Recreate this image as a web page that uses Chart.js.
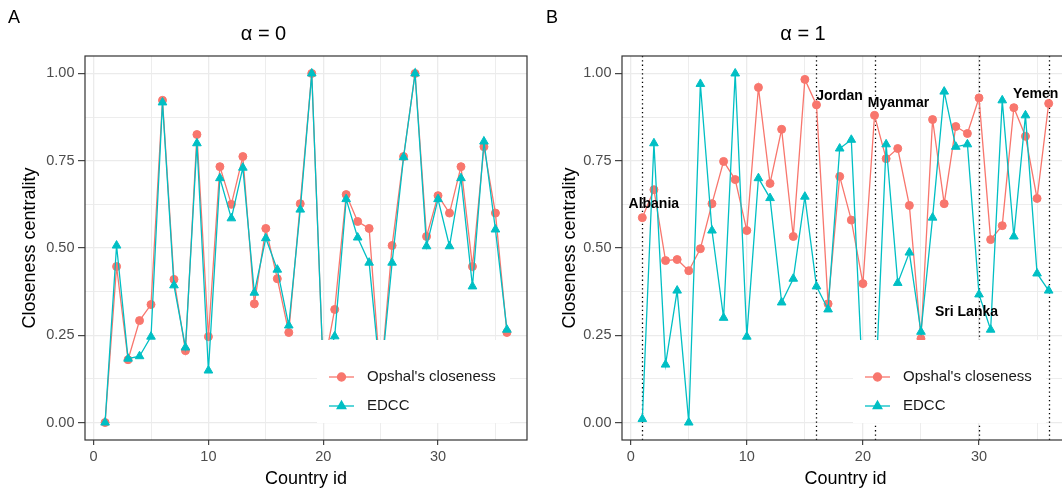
<!DOCTYPE html>
<html>
<head>
<meta charset="utf-8">
<script src="https://cdn.jsdelivr.net/npm/chart.js@4.4.0/dist/chart.umd.min.js"></script>
<style>
  html, body { margin: 0; padding: 0; background: #fff; overflow: hidden; }
  #wrap { position: relative; width: 1062px; height: 494px; overflow: hidden; }
  .panel { position: absolute; top: 0; height: 494px; }
  .tag { position: absolute; top: 7px; font: 18px "Liberation Sans", Arial, sans-serif; color: #000; }
</style>
</head>
<body>
<div id="wrap">
  <div class="panel" style="left:0;width:538px"><canvas id="chartA" width="538" height="494"></canvas></div>
  <div class="panel" style="left:537px;width:545px"><canvas id="chartB" width="545" height="494"></canvas></div>
  <div class="tag" style="left:8px">A</div>
  <div class="tag" style="left:546px">B</div>
</div>
<script>
const FONT = '"Liberation Sans", Arial, sans-serif';

const countryIds = [1, 2, 3, 4, 5, 6, 7, 8, 9, 10, 11, 12, 13, 14, 15, 16, 17, 18,
  19, 20, 21, 22, 23, 24, 25, 26, 27, 28, 29, 30, 31, 32, 33, 34, 35, 36];

// alpha = 0
const opshalA = [0.00, 0.447, 0.18, 0.292, 0.338, 0.923, 0.41, 0.206, 0.825, 0.246, 0.733, 0.625,
  0.762, 0.34, 0.556, 0.412, 0.258, 0.627, 1.00, 0.15, 0.324, 0.653, 0.576, 0.556,
  0.12, 0.507, 0.762, 1.00, 0.533, 0.65, 0.60, 0.733, 0.447, 0.79, 0.60, 0.258];
const edccA = [0.00, 0.507, 0.183, 0.19, 0.246, 0.917, 0.393, 0.215, 0.80, 0.149, 0.70, 0.585,
  0.73, 0.372, 0.528, 0.438, 0.278, 0.61, 1.00, 0.15, 0.247, 0.64, 0.53, 0.458,
  0.12, 0.458, 0.76, 1.00, 0.505, 0.64, 0.505, 0.70, 0.39, 0.805, 0.553, 0.266];

// alpha = 1
const opshalB = [0.587, 0.667, 0.464, 0.467, 0.435, 0.498, 0.627, 0.748, 0.696, 0.55, 0.96, 0.685,
  0.84, 0.533, 0.983, 0.91, 0.34, 0.705, 0.58, 0.398, 0.88, 0.756, 0.785, 0.622,
  0.24, 0.868, 0.627, 0.848, 0.828, 0.93, 0.524, 0.564, 0.902, 0.82, 0.642, 0.914];
const edccB = [0.01, 0.80, 0.166, 0.378, 0.00, 0.97, 0.55, 0.30, 1.00, 0.246, 0.70, 0.643,
  0.344, 0.412, 0.647, 0.39, 0.324, 0.785, 0.81, 0.10, 0.03, 0.797, 0.40, 0.487,
  0.26, 0.587, 0.948, 0.79, 0.797, 0.367, 0.266, 0.923, 0.533, 0.88, 0.427, 0.378];

const seriesNames = ["Opshal's closeness", "EDCC"];
const seriesColors = ['#F8766D', '#00BFC4'];
const seriesShapes = ['circle', 'triangle'];

const xGridValues = [0, 5, 10, 15, 20, 25, 30, 35];
const xMajor = [0, 10, 20, 30];
const xTickLabels = ['0', '10', '20', '30'];
const yGridValues = [0, 0.125, 0.25, 0.375, 0.5, 0.625, 0.75, 0.875, 1];
const yMajor = [0, 0.25, 0.5, 0.75, 1];
const yTickLabels = ['0.00', '0.25', '0.50', '0.75', '1.00'];

const markedIds = [1, 16, 21, 30, 36];
const markedNames = ['Albania', 'Jordan', 'Myanmar', 'Sri Lanka', 'Yemen'];
const markedSeries = [0, 0, 0, 1, 0];

const panelDecor = {
  id: 'panelDecor',
  beforeDatasetsDraw(chart, args, opts) {
    if (!opts.marks) return;
    const { ctx, chartArea: a, scales: { x } } = chart;
    ctx.save();
    ctx.strokeStyle = '#000';
    ctx.lineWidth = 1.3;
    ctx.setLineDash([1.3, 3]);
    markedIds.forEach(id => {
      const px = Math.round(x.getPixelForValue(id)) + 0.5;
      ctx.beginPath();
      ctx.moveTo(px, a.top);
      ctx.lineTo(px, a.bottom);
      ctx.stroke();
    });
    ctx.restore();
  },
  afterDatasetsDraw(chart, args, opts) {
    const { ctx, chartArea: a, scales: { x, y } } = chart;
    ctx.save();

    // legend inside the panel
    const w = 193, h = 83;
    const left = a.right - opts.legendRight - w;
    const top = a.bottom - 17 - h;
    ctx.fillStyle = '#fff';
    ctx.fillRect(left, top, w, h);
    seriesNames.forEach((name, i) => {
      const ry = top + 37 + i * 29;
      ctx.strokeStyle = seriesColors[i];
      ctx.fillStyle = seriesColors[i];
      ctx.lineWidth = 1.3;
      ctx.beginPath();
      ctx.moveTo(left + 12, ry);
      ctx.lineTo(left + 37, ry);
      ctx.stroke();
      Chart.helpers.drawPoint(ctx, {
        pointStyle: seriesShapes[i], radius: i ? 5 : 4, borderWidth: 1, rotation: 0
      }, left + 24.5, ry);
      ctx.fillStyle = '#1a1a1a';
      ctx.font = '15px ' + FONT;
      ctx.textAlign = 'left';
      ctx.textBaseline = 'middle';
      ctx.fillText(name, left + 50, ry);
    });

    // country labels
    if (opts.marks) {
      ctx.fillStyle = '#000';
      ctx.font = 'bold 14px ' + FONT;
      ctx.textAlign = 'center';
      ctx.textBaseline = 'middle';
      markedIds.forEach((id, i) => {
        const vals = opts.series[markedSeries[i]];
        const px = x.getPixelForValue(id);
        const py = y.getPixelForValue(vals[countryIds.indexOf(id)]);
        const s = opts.labelShift[i];
        ctx.fillText(markedNames[i], px + s[0], py + s[1]);
      });
    }

    // panel border
    ctx.strokeStyle = '#333';
    ctx.lineWidth = 1.2;
    ctx.strokeRect(a.left, a.top, a.right - a.left, a.bottom - a.top);
    ctx.restore();
  }
};

function tickIs(list, c) {
  return c && c.tick && list.includes(c.tick.value);
}

function makePanel(canvasId, titleText, series, cfg) {
  const datasets = series.map((vals, i) => ({
    label: seriesNames[i],
    data: countryIds.map((id, k) => ({ x: id, y: vals[k] })),
    borderColor: seriesColors[i],
    backgroundColor: seriesColors[i],
    borderWidth: 1.3,
    pointStyle: seriesShapes[i],
    pointRadius: i ? 5 : 4,
    pointBorderWidth: 1,
    pointBorderColor: seriesColors[i],
    pointBackgroundColor: seriesColors[i],
    tension: 0,
    order: i ? 1 : 2,
    clip: 6
  }));

  return new Chart(document.getElementById(canvasId), {
    type: 'line',
    data: { datasets },
    options: {
      responsive: false,
      animation: false,
      events: [],
      layout: { padding: { left: 0, right: cfg.padRight, top: 0, bottom: 0 } },
      plugins: {
        legend: { display: false },
        tooltip: { enabled: false },
        title: {
          display: true,
          text: titleText,
          color: '#000',
          font: { family: FONT, size: 20, weight: 'normal' },
          padding: { top: 22, bottom: 10 }
        },
        panelDecor: {
          marks: cfg.marks,
          series: series,
          legendRight: cfg.legendRight,
          labelShift: [[11.5, -13], [23, -9], [24, -12], [-12.5, 18], [-13, -9]]
        }
      },
      scales: {
        x: {
          type: 'linear',
          min: -0.75,
          max: 37.75,
          afterBuildTicks: s => { s.ticks = xGridValues.map(v => ({ value: v })); },
          afterFit: s => { s.height = 54; },
          border: { display: false },
          grid: {
            color: '#EBEBEB',
            lineWidth: c => tickIs(xMajor, c) ? 1.3 : 0.9,
            tickLength: 5,
            tickWidth: 1.1,
            tickColor: c => tickIs(xMajor, c) ? '#333' : 'rgba(0,0,0,0)'
          },
          ticks: {
            autoSkip: false,
            maxRotation: 0,
            padding: 3,
            color: '#4D4D4D',
            font: { family: FONT, size: 14.5 },
            callback: v => { const i = xMajor.indexOf(v); return i < 0 ? '' : xTickLabels[i]; }
          },
          title: {
            display: true,
            text: 'Country id',
            color: '#000',
            font: { family: FONT, size: 18 },
            padding: { top: 0, bottom: 4.2 }
          }
        },
        y: {
          type: 'linear',
          min: -0.05,
          max: 1.05,
          afterBuildTicks: s => { s.ticks = yGridValues.map(v => ({ value: v })); },
          afterFit: s => { s.width = 85; },
          border: { display: false },
          grid: {
            color: '#EBEBEB',
            lineWidth: c => tickIs(yMajor, c) ? 1.3 : 0.9,
            tickLength: 7,
            tickWidth: 1.1,
            tickColor: c => tickIs(yMajor, c) ? '#333' : 'rgba(0,0,0,0)'
          },
          ticks: {
            autoSkip: false,
            padding: 3.5,
            color: '#4D4D4D',
            font: { family: FONT, size: 14.5 },
            callback: v => { const i = yMajor.indexOf(v); return i < 0 ? '' : yTickLabels[i]; }
          },
          title: {
            display: true,
            text: 'Closeness centrality',
            color: '#000',
            font: { family: FONT, size: 18 },
            padding: { top: cfg.yTitlePad, bottom: 0 }
          }
        }
      }
    },
    plugins: [panelDecor]
  });
}

makePanel('chartA', 'α = 0', [opshalA, edccA], { padRight: 11, marks: false, legendRight: 17, yTitlePad: 19.2 });
makePanel('chartB', 'α = 1', [opshalB, edccB], { padRight: 13, marks: true, legendRight: 23, yTitlePad: 22.2 });
</script>
</body>
</html>
